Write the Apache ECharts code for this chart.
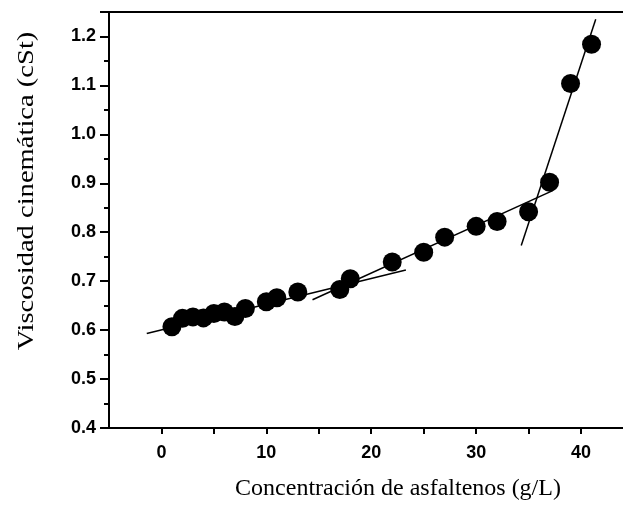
<!DOCTYPE html>
<html>
<head>
<meta charset="utf-8">
<title>Viscosidad vs concentración de asfaltenos</title>
<script src="https://cdn.jsdelivr.net/npm/echarts@6/dist/echarts.min.js"></script>
<style>
  html, body { margin: 0; padding: 0; background: #fff; }
  #chart { width: 623px; height: 506px; }
</style>
</head>
<body>
<div id="chart"></div>
<script>
// Measured kinematic viscosity against asphaltene concentration
const concentracion = [1, 2, 3, 4, 5, 6, 7, 8, 10, 11, 13, 17, 18, 22, 25, 27, 30, 32, 35, 37, 39, 41];
const viscosidad = [0.607, 0.624, 0.627, 0.625, 0.634, 0.637, 0.628, 0.644, 0.658, 0.666, 0.678,
                    0.683, 0.705, 0.739, 0.759, 0.790, 0.812, 0.822, 0.842, 0.902, 1.104, 1.184];

// Straight-line fits for the three regimes: [x, y] end points
const ajusteBajo = [[-1.4, 0.593], [23.3, 0.723]];
const ajusteMedio = [[14.4, 0.662], [37.3, 0.885]];
const ajusteAlto = [[34.3, 0.773], [41.4, 1.235]];

// Tick positions and labels on each axis
const marcasX = [0, 5, 10, 15, 20, 25, 30, 35, 40];
const etiquetasX = [0, 10, 20, 30, 40];
const etiquetasY = [0.4, 0.5, 0.6, 0.7, 0.8, 0.9, 1.0, 1.1, 1.2];

const tituloY = 'Viscosidad cinemática (cSt)';
const tituloX = 'Concentración de asfaltenos (g/L)';

const puntos = concentracion.map((c, i) => [c, viscosidad[i]]);

const chart = echarts.init(document.getElementById('chart'));

const lineaAjuste = (datos) => ({
  type: 'line',
  data: datos,
  showSymbol: false,
  symbol: 'none',
  silent: true,
  lineStyle: { color: '#000', width: 1.5 },
  z: 2
});

chart.setOption({
  animation: false,
  backgroundColor: '#fff',
  grid: { left: 109, top: 12, right: 0, bottom: 74 },
  // vertical title, drawn slightly elongated along its reading direction
  graphic: [{
    type: 'text',
    x: 27,
    y: 191,
    rotation: Math.PI / 2,
    scaleX: 1.19,
    style: {
      text: tituloY,
      fontFamily: 'Liberation Serif',
      fontSize: 24,
      fill: '#000',
      align: 'center',
      verticalAlign: 'middle'
    }
  }],
  xAxis: [{
    type: 'value',
    min: -5,
    max: 44,
    interval: 5,
    name: tituloX,
    nameLocation: 'middle',
    nameGap: 49,
    nameTextStyle: {
      fontFamily: 'Liberation Serif',
      fontSize: 24,
      color: '#000',
      padding: [0, 0, 0, 64]
    },
    axisLine: { show: true, onZero: false, lineStyle: { color: '#000', width: 2 } },
    axisTick: {
      show: true, inside: false, length: 6,
      customValues: marcasX,
      lineStyle: { color: '#000', width: 2 }
    },
    axisLabel: {
      margin: 16,
      fontFamily: 'Liberation Sans',
      fontWeight: 'bold',
      fontSize: 18,
      color: '#000',
      customValues: etiquetasX,
      formatter: (v) => String(v)
    },
    splitLine: { show: false }
  }, {
    type: 'value',
    position: 'top',
    min: -5,
    max: 44,
    axisLine: { show: true, onZero: false, lineStyle: { color: '#000', width: 2 } },
    axisTick: { show: false },
    axisLabel: { show: false },
    splitLine: { show: false }
  }],
  yAxis: {
    type: 'value',
    min: 0.4,
    max: 1.25,
    interval: 0.1,
    axisLine: { show: true, onZero: false, lineStyle: { color: '#000', width: 2 } },
    axisTick: { show: true, inside: false, length: 9, lineStyle: { color: '#000', width: 2 } },
    minorTick: { show: true, splitNumber: 2, length: 5, lineStyle: { color: '#000', width: 2 } },
    axisLabel: {
      margin: 13,
      fontFamily: 'Liberation Sans',
      fontWeight: 'bold',
      fontSize: 18,
      color: '#000',
      formatter: (v) => {
        const r = Math.round(v * 10) / 10;
        return etiquetasY.includes(r) ? r.toFixed(1) : '';
      }
    },
    splitLine: { show: false },
    minorSplitLine: { show: false }
  },
  series: [
    lineaAjuste(ajusteBajo),
    lineaAjuste(ajusteMedio),
    lineaAjuste(ajusteAlto),
    {
      type: 'scatter',
      data: puntos,
      symbol: 'circle',
      symbolSize: 19,
      itemStyle: { color: '#000', opacity: 1 },
      z: 3
    }
  ]
});
</script>
</body>
</html>
